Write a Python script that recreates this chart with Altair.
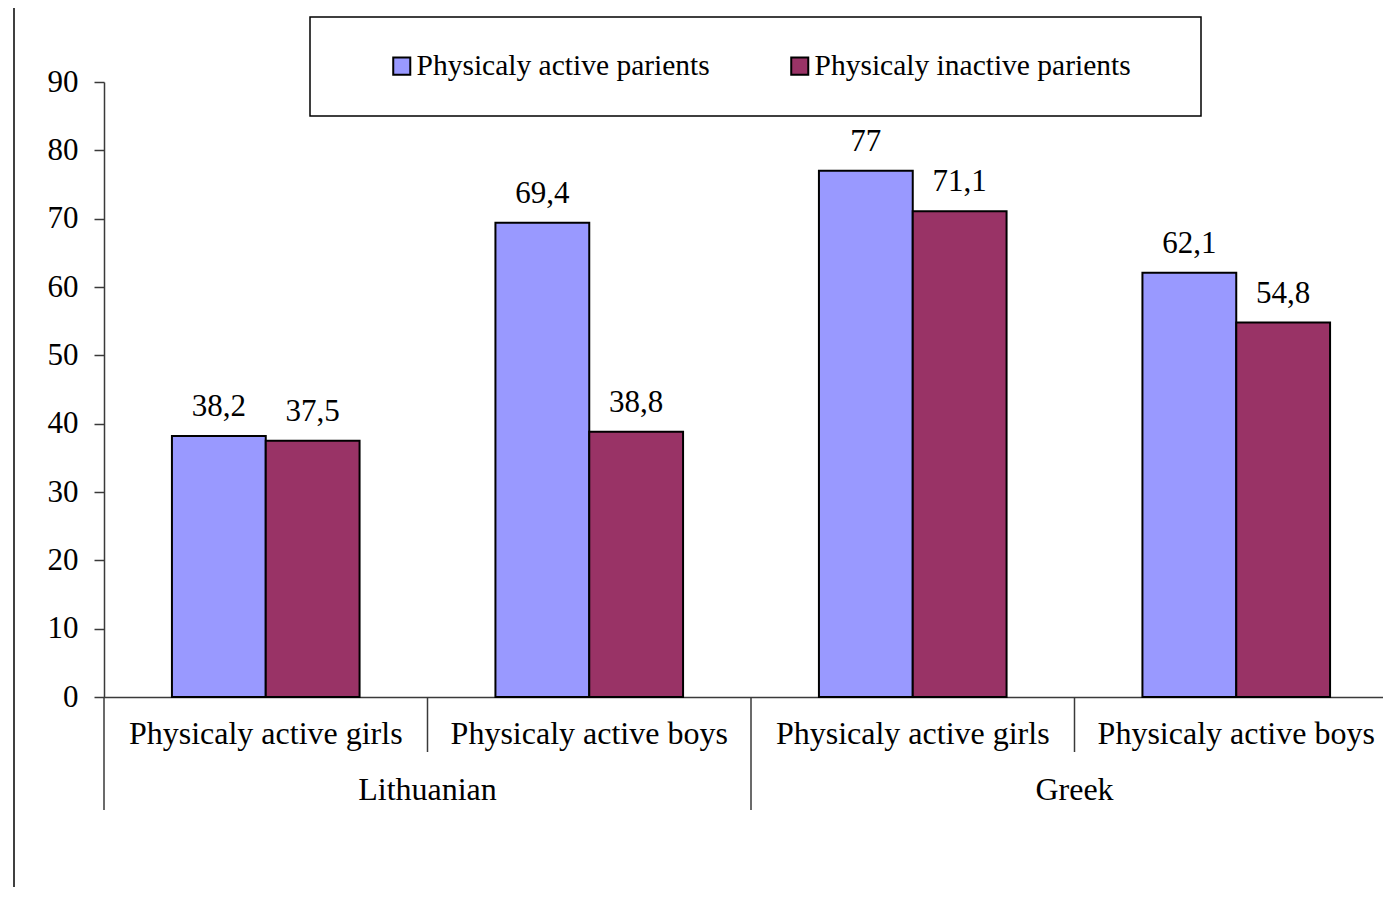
import altair as alt
import pandas as pd

# ---------------- data ----------------
countries = ["Lithuanian", "Lithuanian", "Greek", "Greek"]
subgroups = ["Physicaly active girls", "Physicaly active boys",
             "Physicaly active girls", "Physicaly active boys"]
series_names = ["Physicaly active parients", "Physicaly inactive parients"]
active_values = [38.2, 69.4, 77.0, 62.1]
inactive_values = [37.5, 38.8, 71.1, 54.8]
series_colors = ["#9999FF", "#993366"]
y_ticks = [0, 10, 20, 30, 40, 50, 60, 70, 80, 90]

FONT = "Liberation Serif"
AXIS_COLOR = "#3a3a3a"
X_RANGE = [0, 1294]

cat_keys = [f"c{i}" for i in range(len(subgroups))]
rows = []
for i, key in enumerate(cat_keys):
    for s, vals in zip(series_names, [active_values, inactive_values]):
        v = vals[i]
        rows.append({"cat": key, "series": s, "value": v,
                     "label": f"{v:g}".replace(".", ",")})
df = pd.DataFrame(rows)

# positions on a 0..n category-index scale for the multi-level axis
n = len(subgroups)
sub_df = pd.DataFrame({"pos": [i + 0.5 for i in range(n)], "text": subgroups})
country_order = list(dict.fromkeys(countries))
country_df = pd.DataFrame({
    "pos": [sum(i + 0.5 for i in range(n) if countries[i] == c) /
            countries.count(c) for c in country_order],
    "text": country_order,
})
long_sep = pd.DataFrame({"pos": [i for i in range(n)
                                 if i == 0 or countries[i] != countries[i - 1]]})
short_sep = pd.DataFrame({"pos": [i for i in range(n)
                                  if i > 0 and countries[i] == countries[i - 1]]})

# ---------------- encodings ----------------
band_scale = alt.Scale(paddingInner=0.42, paddingOuter=0.21, range=X_RANGE)
x_band = alt.X("cat:N", sort=cat_keys, scale=band_scale,
               axis=alt.Axis(labels=False, ticks=False, title=None,
                             domainColor=AXIS_COLOR, domainWidth=1.5))
x_band_noaxis = alt.X("cat:N", sort=cat_keys, scale=band_scale, axis=None)
x_off = alt.XOffset("series:N", sort=series_names,
                    scale=alt.Scale(paddingInner=0, paddingOuter=0))
y_enc = alt.Y("value:Q", scale=alt.Scale(domain=[0, 90], nice=False),
              axis=alt.Axis(values=y_ticks, title=None, grid=False, tickSize=10,
                            labelPadding=16, labelFontSize=31, labelFont=FONT,
                            labelColor="black", domainColor=AXIS_COLOR,
                            tickColor=AXIS_COLOR, domainWidth=1.5, tickWidth=1.5))
x_idx = alt.X("pos:Q", scale=alt.Scale(domain=[0, n], range=X_RANGE, nice=False,
                                       zero=False), axis=None)

bars = alt.Chart(df).mark_bar(stroke="black", strokeWidth=2).encode(
    x=x_band,
    xOffset=x_off,
    y=y_enc,
    color=alt.Color("series:N", sort=series_names,
                    scale=alt.Scale(domain=series_names, range=series_colors),
                    legend=alt.Legend(title=None, orient="none", legendX=283,
                                      legendY=-31, direction="horizontal",
                                      symbolType="square", symbolSize=290,
                                      symbolStrokeColor="black",
                                      symbolStrokeWidth=2, symbolOpacity=1,
                                      labelFont=FONT, labelFontSize=29.5,
                                      labelColor="black", labelOffset=0,
                                      columnPadding=75, padding=0,
                                      labelLimit=500)),
)

value_labels = alt.Chart(df).mark_text(font=FONT, fontSize=31, baseline="alphabetic",
                                       dy=-20, color="black").encode(
    x=x_band_noaxis, xOffset=x_off, y=alt.Y("value:Q"), text="label:N")

short_rules = alt.Chart(short_sep).mark_rule(color=AXIS_COLOR, strokeWidth=1.5).encode(
    x=x_idx, y=alt.datum(0), y2=alt.value(670))
long_rules = alt.Chart(long_sep).mark_rule(color=AXIS_COLOR, strokeWidth=1.5).encode(
    x=x_idx, y=alt.datum(0), y2=alt.value(728))

sub_text = alt.Chart(sub_df).mark_text(font=FONT, fontSize=32, baseline="middle",
                                       color="black").encode(
    x=x_idx, y=alt.value(652), text="text:N")
country_text = alt.Chart(country_df).mark_text(font=FONT, fontSize=32, baseline="middle",
                                               color="black").encode(
    x=x_idx, y=alt.value(708), text="text:N")

frame_df = pd.DataFrame({"k": [0]})
legend_frame = alt.Chart(frame_df).mark_rect(fill="white", stroke="black",
                                              strokeWidth=1.5).encode(
    x=alt.value(206), x2=alt.value(1097), y=alt.value(-65), y2=alt.value(34))
left_border = alt.Chart(frame_df).mark_rule(color="black", strokeWidth=1.5).encode(
    x=alt.value(-90), y=alt.value(-74), y2=alt.value(820))

chart = alt.layer(
    legend_frame, left_border, bars, value_labels, short_rules, long_rules,
    sub_text, country_text
).resolve_scale(x="independent").properties(
    width=1279, height=615,
    background="white",
    autosize=alt.AutoSizeParams(type="none"),
    padding={"left": 96, "top": 74, "right": 0, "bottom": 190},
).configure_view(stroke=None)

chart.save("out.html", embed_options={"renderer": "svg", "actions": False})
